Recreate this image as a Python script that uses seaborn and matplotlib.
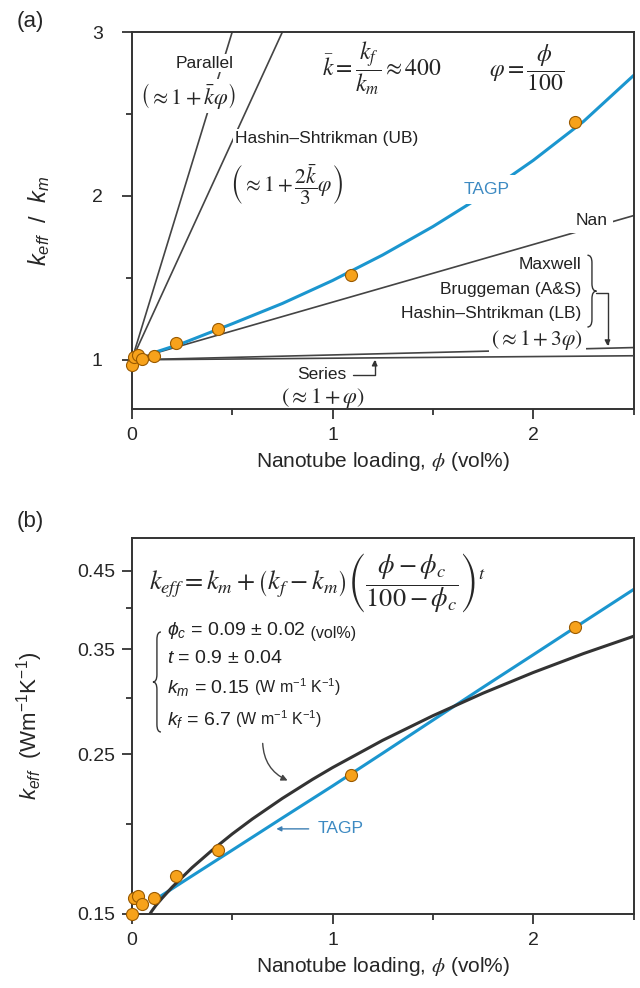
import matplotlib
matplotlib.use('Agg')
import matplotlib.pyplot as plt
from matplotlib.path import Path
from matplotlib.patches import PathPatch
from matplotlib.ticker import FixedLocator, NullFormatter
import seaborn as sns

phi_pts = [0.0, 0.01, 0.03, 0.05, 0.11, 0.22, 0.43, 1.09, 2.21]
ratio_pts = [0.97, 1.02, 1.03, 1.005, 1.025, 1.10, 1.19, 1.515, 2.45]
keff_pts = [0.150, 0.158, 0.159, 0.155, 0.158, 0.1695, 0.184, 0.234, 0.376]

# TAGP curve, panel (a)
phi_tagp = [0.1, 0.25, 0.5, 0.75, 1.0, 1.25, 1.5, 1.75, 2.0, 2.25, 2.5]
ratio_tagp = [1.04, 1.10, 1.22, 1.344, 1.484, 1.64, 1.813, 2.004, 2.217, 2.454, 2.735]

# effective medium models, panel (a)
parallel_x, parallel_y = [0, 0.5], [1.0, 3.0]
hs_ub_x, hs_ub_y = [0, 0.75], [1.0, 3.0]
nan_x, nan_y = [0, 2.5], [1.0, 1.88]
maxwell_x, maxwell_y = [0, 2.5], [1.0, 1.075]
series_x, series_y = [0, 2.5], [1.0, 1.025]

# percolation fit and TAGP, panel (b)
phi_fit = [0.09, 0.10, 0.12, 0.15, 0.2, 0.3, 0.4, 0.5, 0.6, 0.75, 0.9, 1.0,
           1.25, 1.5, 1.75, 2.0, 2.25, 2.5]
keff_fit = [0.150, 0.1515, 0.1542, 0.1577, 0.1634, 0.174, 0.184, 0.1938, 0.2033, 0.2172,
            0.2308, 0.2397, 0.2616, 0.283, 0.3042, 0.325, 0.3453, 0.365]
phi_tagp_b = [0.1, 0.25, 0.5, 0.75, 1.0, 1.25, 1.5, 1.75, 2.0, 2.25, 2.5]
keff_tagp_b = [0.156, 0.166, 0.184, 0.204, 0.226, 0.251, 0.279, 0.310, 0.344, 0.382, 0.424]

x_major = [0, 1, 2]
x_minor = [0.5, 1.5, 2.5]
ya_major = [1, 2, 3]
ya_minor = [1.5, 2.5]
yb_major = [0.15, 0.25, 0.35, 0.45]
yb_labels = ['0.15', '0.25', '0.35', '0.45']
yb_minor = [0.2, 0.3, 0.4]

BLUE = '#1b96cf'
BLUE_TXT = '#3d8ac2'
ORANGE = '#f7a21b'
EDGE = '#9a5a00'
DARK = '#333333'
GREY = '#444444'

sns.set_style('ticks')
plt.rcParams['font.family'] = ['Liberation Sans', 'DejaVu Sans']
plt.rcParams['mathtext.fontset'] = 'custom'
plt.rcParams['mathtext.rm'] = 'Liberation Sans'
plt.rcParams['mathtext.it'] = 'Liberation Sans:italic'
plt.rcParams['mathtext.bf'] = 'Liberation Sans:bold'
plt.rcParams['axes.edgecolor'] = DARK
plt.rcParams['axes.linewidth'] = 1.4


def brace(ax, x_tip, x_base, y0, y1, d=0.02):
    xm = (x_tip + x_base) / 2
    ym = (y0 + y1) / 2
    verts = [(x_base, y1), (xm, y1), (xm, y1 - d), (xm, ym + d), (xm, ym), (x_tip, ym),
             (xm, ym), (xm, ym - d), (xm, y0 + d), (xm, y0), (x_base, y0)]
    codes = [Path.MOVETO, Path.CURVE3, Path.CURVE3, Path.LINETO, Path.CURVE3, Path.CURVE3,
             Path.CURVE3, Path.CURVE3, Path.LINETO, Path.CURVE3, Path.CURVE3]
    ax.add_patch(PathPatch(Path(verts, codes), transform=ax.transAxes, fill=False,
                           lw=1.0, ec=DARK, clip_on=False))


def style_axis(ax, ypad):
    ax.tick_params(which='both', direction='out', color=DARK, width=1.3,
                   top=False, right=False, labelsize=14)
    ax.tick_params(which='major', length=7)
    ax.tick_params(which='minor', length=4.5)
    ax.tick_params(axis='y', pad=ypad)
    ax.tick_params(axis='x', pad=6)
    ax.xaxis.set_major_locator(FixedLocator(x_major))
    ax.xaxis.set_minor_locator(FixedLocator(x_minor))
    ax.set_xticklabels([str(v) for v in x_major])
    ax.set_xlim(0, 2.5)
    ax.set_xlabel(r'Nanotube loading, $\phi$ (vol%)', fontsize=15, math_fontfamily='stix')


fig = plt.figure(figsize=(6.4, 9.88), dpi=100)
ax1 = fig.add_axes([0.206, 0.586, 0.784, 0.3816])
ax2 = fig.add_axes([0.206, 0.0749, 0.784, 0.3806])

# ---------------- panel (a) ----------------
line_kw = dict(color=GREY, lw=1.2, estimator=None, sort=False, legend=False)
sns.lineplot(x=parallel_x, y=parallel_y, ax=ax1, zorder=2, **line_kw)
sns.lineplot(x=hs_ub_x, y=hs_ub_y, ax=ax1, zorder=2, **line_kw)
sns.lineplot(x=nan_x, y=nan_y, ax=ax1, zorder=2, **line_kw)
sns.lineplot(x=maxwell_x, y=maxwell_y, ax=ax1, zorder=2, **line_kw)
sns.lineplot(x=series_x, y=series_y, ax=ax1, zorder=4, **line_kw)
sns.lineplot(x=phi_tagp, y=ratio_tagp, ax=ax1, color=BLUE, lw=2.2, zorder=2,
             estimator=None, sort=False)
sns.scatterplot(x=phi_pts, y=ratio_pts, ax=ax1, s=75, color=ORANGE, edgecolor=EDGE,
                linewidth=0.8, zorder=5, clip_on=False)

ax1.set_ylim(0.7, 3.0)
ax1.yaxis.set_major_locator(FixedLocator(ya_major))
ax1.yaxis.set_minor_locator(FixedLocator(ya_minor))
ax1.set_yticklabels([str(v) for v in ya_major])
style_axis(ax1, ypad=14)
ax1.set_ylabel(r'$k_{eff}$  /  $k_m$', fontsize=17)
ax1.yaxis.set_label_coords(-0.16, 0.5)

wb = dict(boxstyle='square,pad=0.1', fc='white', ec='none')
lab = dict(fontsize=12.5, color='#222222', zorder=3)
ax1.text(0.363, 2.81, 'Parallel', ha='center', va='center', bbox=wb, **lab)
ax1.text(0.28, 2.61, r'$\left(\approx 1+\bar{k}\varphi\right)$', ha='center', va='center',
         math_fontfamily='stix', fontsize=16, bbox=wb, zorder=3)
ax1.text(0.97, 2.35, 'Hashin–Shtrikman (UB)', ha='center', va='center', bbox=wb, **lab)
ax1.text(0.77, 2.07, r'$\left(\approx 1+\dfrac{2\bar{k}}{3}\varphi\right)$', ha='center',
         va='center', math_fontfamily='stix', fontsize=15.5, zorder=3)
ax1.text(1.245, 2.78, r'$\bar{k}=\dfrac{k_f}{k_m}\approx 400$', ha='center', va='center',
         math_fontfamily='stix', fontsize=17)
ax1.text(1.965, 2.78, r'$\varphi=\dfrac{\phi}{100}$', ha='center', va='center',
         math_fontfamily='stix', fontsize=17)
ax1.text(1.77, 2.04, 'TAGP', ha='center', va='center', fontsize=12.5, color=BLUE_TXT,
         bbox=dict(boxstyle='square,pad=0.4', fc='white', ec='none'), zorder=3)
ax1.text(2.29, 1.85, 'Nan', ha='center', va='center',
         bbox=dict(boxstyle='square,pad=0.3', fc='white', ec='none'), **lab)
ax1.text(2.24, 1.58, 'Maxwell', ha='right', va='center', **lab)
ax1.text(2.24, 1.43, 'Bruggeman (A&S)', ha='right', va='center', **lab)
ax1.text(2.24, 1.28, 'Hashin–Shtrikman (LB)', ha='right', va='center', **lab)
ax1.text(2.25, 1.12, r'$(\approx 1+3\varphi)$', ha='right', va='center',
         math_fontfamily='stix', fontsize=15.5, bbox=wb, zorder=3)
ax1.text(1.07, 0.91, 'Series', ha='right', va='center', **lab)
ax1.text(0.95, 0.77, r'$(\approx 1+\varphi)$', ha='center', va='center',
         math_fontfamily='stix', fontsize=16)

arr = dict(arrowstyle='-|>', color=DARK, lw=1.0, mutation_scale=8, shrinkA=0, shrinkB=0)
ax1.annotate('', xy=(1.21, 1.0), xytext=(1.10, 0.91),
             arrowprops=dict(connectionstyle='angle,angleA=0,angleB=90,rad=0', **arr))
brace(ax1, 0.926, 0.908, 0.2175, 0.408, d=0.02)
ax1.annotate('', xy=(2.37, 1.085), xytext=(2.313, 1.41),
             arrowprops=dict(connectionstyle='angle,angleA=0,angleB=90,rad=0', **arr))

fig.text(0.047, 0.978, '(a)', fontsize=16, ha='center', va='center')

# ---------------- panel (b) ----------------
sns.lineplot(x=phi_fit, y=keff_fit, ax=ax2, color=DARK, lw=2.2, zorder=3,
             estimator=None, sort=False)
sns.lineplot(x=phi_tagp_b, y=keff_tagp_b, ax=ax2, color=BLUE, lw=2.2, zorder=2,
             estimator=None, sort=False)
sns.scatterplot(x=phi_pts, y=keff_pts, ax=ax2, s=75, color=ORANGE, edgecolor=EDGE,
                linewidth=0.8, zorder=5, clip_on=False)

ax2.set_yscale('log')
ax2.set_ylim(0.15, 0.5)
ax2.yaxis.set_major_locator(FixedLocator(yb_major))
ax2.yaxis.set_minor_locator(FixedLocator(yb_minor))
ax2.yaxis.set_minor_formatter(NullFormatter())
ax2.set_yticklabels(yb_labels)
style_axis(ax2, ypad=5)
ax2.set_ylabel(r'$k_{eff}$  (Wm$^{-1}$K$^{-1}$)', fontsize=16)
ax2.yaxis.set_label_coords(-0.173, 0.5)

ax2.text(0.37, 0.88,
         r'$k_{eff}=k_m+\left(k_f-k_m\right)\left(\dfrac{\phi-\phi_c}{100-\phi_c}\right)^t$',
         transform=ax2.transAxes, ha='center', va='center', math_fontfamily='stix', fontsize=19)

params = [r'$\phi_c$ = 0.09 ± 0.02', r'$t$ = 0.9 ± 0.04', r'$k_m$ = 0.15', r'$k_f$ = 6.7']
units = [' (vol%)', '', r' (W m$^{-1}$ K$^{-1}$)', r' (W m$^{-1}$ K$^{-1}$)']
param_y = [0.742, 0.668, 0.588, 0.503]
for txt, unit, yy in zip(params, units, param_y):
    t = ax2.text(0.07, yy, txt, transform=ax2.transAxes, ha='left', va='baseline',
                 fontsize=14, color='#222222')
    if unit:
        ax2.annotate(unit, xy=(1, 0), xycoords=t, xytext=(0, 0), textcoords='offset points',
                     ha='left', va='bottom', fontsize=11.5, color='#222222')
brace(ax2, 0.042, 0.058, 0.484, 0.75, d=0.02)

ax2.annotate('', xy=(0.776, 0.230), xytext=(0.652, 0.259),
             arrowprops=dict(arrowstyle='-|>', color=GREY, lw=1.0, mutation_scale=9,
                             connectionstyle='arc3,rad=0.3', shrinkA=0, shrinkB=0))
ax2.annotate('TAGP', xy=(0.72, 0.197), xytext=(0.925, 0.197), ha='left', va='center',
             fontsize=12.5, color=BLUE_TXT,
             arrowprops=dict(arrowstyle='-|>', color='#3d7fb3', lw=1.0, mutation_scale=7,
                             shrinkA=4, shrinkB=0))

fig.text(0.047, 0.472, '(b)', fontsize=16, ha='center', va='center')

fig.savefig('out.png', dpi=100)
